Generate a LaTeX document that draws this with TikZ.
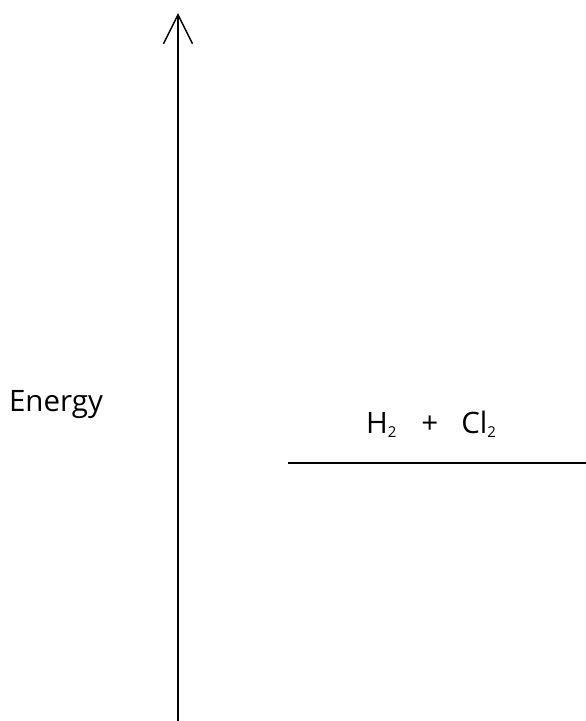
\documentclass[tikz,border=0pt]{standalone}
\usepackage{fontspec}
\setmainfont{Open Sans}
\usetikzlibrary{positioning,arrows.meta}
\newcommand{\sbs}[1]{\raisebox{-0.3ex}{\fontsize{15}{16}\selectfont #1}}

\begin{document}
\begin{tikzpicture}[x=1pt,y=-1pt,line width=1.5pt,font=\fontsize{29.5}{34}\selectfont]
\useasboundingbox (0,0) rectangle (586,721);
\coordinate (base) at (178,721);
\coordinate (top) at (178,13);
\coordinate (lvl) at (288,463);
\coordinate (lvr) at (586,463);
\draw[-{Straight Barb[length=29pt,width=29pt]}] (base) -- (top);
\node (en) at (56,405) {Energy};
\draw (lvl) -- (lvr);
\node (re) [anchor=base] at (431,433) {H\sbs{2}\hspace{25pt}+\hspace{23pt}Cl\sbs{2}};
\end{tikzpicture}
\end{document}
